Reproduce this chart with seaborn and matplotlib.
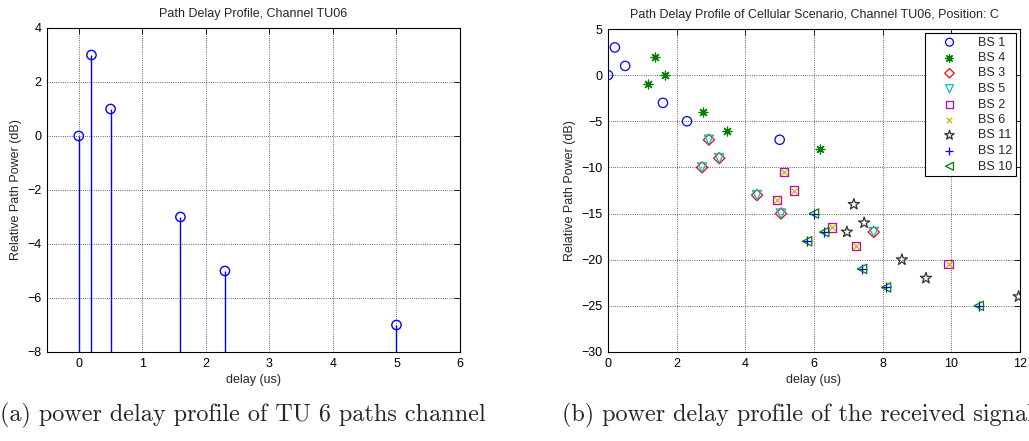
import numpy as np
import pandas as pd
import matplotlib
matplotlib.use("Agg")
import matplotlib.pyplot as plt
import seaborn as sns

# left panel: TU06 path delay profile
tu_delay = [0, 0.2, 0.5, 1.6, 2.3, 5.0]
tu_power = [0, 3, 1, -3, -5, -7]

# right panel: cellular scenario, one profile per base station
bs_names = ["BS 1", "BS 4", "BS 3", "BS 5", "BS 2", "BS 6", "BS 11", "BS 12", "BS 10"]
bs_delay = {
    "BS 1": [0, 0.2, 0.5, 1.6, 2.3, 5.0],
    "BS 4": [1.17, 1.37, 1.67, 2.77, 3.47, 6.17],
    "BS 3": [2.74, 2.94, 3.24, 4.34, 5.04, 7.74],
    "BS 5": [2.74, 2.94, 3.24, 4.34, 5.04, 7.74],
    "BS 2": [4.92, 5.12, 5.42, 6.52, 7.22, 9.92],
    "BS 6": [4.92, 5.12, 5.42, 6.52, 7.22, 9.92],
    "BS 11": [6.96, 7.16, 7.46, 8.56, 9.26, 11.96],
    "BS 12": [5.8, 6.0, 6.3, 7.4, 8.1, 10.8],
    "BS 10": [5.8, 6.0, 6.3, 7.4, 8.1, 10.8],
}
bs_power = {
    "BS 1": [0, 3, 1, -3, -5, -7],
    "BS 4": [-1, 2, 0, -4, -6, -8],
    "BS 3": [-10, -7, -9, -13, -15, -17],
    "BS 5": [-10, -7, -9, -13, -15, -17],
    "BS 2": [-13.5, -10.5, -12.5, -16.5, -18.5, -20.5],
    "BS 6": [-13.5, -10.5, -12.5, -16.5, -18.5, -20.5],
    "BS 11": [-17, -14, -16, -20, -22, -24],
    "BS 12": [-18, -15, -17, -21, -23, -25],
    "BS 10": [-18, -15, -17, -21, -23, -25],
}

# marker, colour, outlined (True) or line-art (False), size
styles = {
    "BS 1": ("o", "#0000ff", True, 45),
    "BS 4": ((8, 2, 0), "#008000", False, 40),
    "BS 3": ("D", "#ff0000", True, 32),
    "BS 5": ("v", "#00bfbf", True, 45),
    "BS 2": ("s", "#bf00bf", True, 35),
    "BS 6": ("x", "#bfbf00", False, 22),
    "BS 11": ("*", "#333333", True, 70),
    "BS 12": ("+", "#0000ff", False, 45),
    "BS 10": ("<", "#008000", True, 45),
}

sns.set_style("white")
plt.rcParams["font.family"] = ["Liberation Sans", "DejaVu Sans"]
plt.rcParams["font.size"] = 9

fig = plt.figure(figsize=(10.29, 4.41), dpi=100)
ax1 = fig.add_axes([47 / 1029, 1 - 352 / 441, 413 / 1029, 324 / 441])
ax2 = fig.add_axes([608 / 1029, 1 - 352 / 441, 412 / 1029, 323 / 441])


def matlab_axes(ax):
    ax.grid(True, color="k", linestyle=":", linewidth=0.6, alpha=0.8)
    ax.tick_params(direction="in", top=True, right=True, length=4, width=0.6,
                   labelsize=9, colors="k", pad=4)
    for s in ax.spines.values():
        s.set_color("k")
        s.set_linewidth(0.8)


# left: stem plot
df_tu = pd.DataFrame({"delay": tu_delay, "power": tu_power})
ax1.vlines(df_tu["delay"], -8, df_tu["power"], color="#0000ff", linewidth=1)
sns.scatterplot(data=df_tu, x="delay", y="power", ax=ax1, marker="o", s=45,
                facecolor="none", edgecolor="#0000ff", linewidth=1, zorder=3)
ax1.set_xlim(-0.5, 6)
ax1.set_ylim(-8, 4)
ax1.set_xticks(range(0, 7))
ax1.set_yticks(range(-8, 5, 2))
ax1.set_title("Path Delay Profile, Channel TU06", fontsize=9, pad=8)
ax1.set_xlabel("delay (us)", fontsize=9, labelpad=3)
ax1.set_ylabel("Relative Path Power (dB)", fontsize=9, labelpad=4)
matlab_axes(ax1)

# right: scatter per base station
for name in bs_names:
    mk, col, filled, size = styles[name]
    d = pd.DataFrame({"delay": bs_delay[name], "power": bs_power[name]})
    if filled:
        sns.scatterplot(data=d, x="delay", y="power", ax=ax2, marker=mk, s=size,
                        facecolor="none", edgecolor=col, linewidth=0.9,
                        label=name, zorder=3)
    else:
        sns.scatterplot(data=d, x="delay", y="power", ax=ax2, marker=mk, s=size,
                        color=col, linewidth=0.9, label=name, zorder=3)

ax2.set_xlim(0, 12)
ax2.set_ylim(-30, 5)
ax2.set_xticks(range(0, 13, 2))
ax2.set_yticks(range(-30, 6, 5))
ax2.set_title("Path Delay Profile of Cellular Scenario, Channel TU06, Position: C",
              fontsize=9, pad=8)
ax2.set_xlabel("delay (us)", fontsize=9, labelpad=3)
ax2.set_ylabel("Relative Path Power (dB)", fontsize=9, labelpad=4)
matlab_axes(ax2)
leg = ax2.legend(loc="upper right", fontsize=9, frameon=True, fancybox=False,
                 framealpha=1, edgecolor="k", borderaxespad=0.35,
                 labelspacing=0.28, handletextpad=0.6, borderpad=0.25,
                 handlelength=3.4, markerscale=0.85)
leg.get_frame().set_linewidth(0.8)

# sub-figure captions (the right one runs off the page edge, as in the source)
fig.text(0.0, 1 - 415 / 441, "(a) power delay profile of TU 6 paths channel",
         fontfamily="cmr10", fontsize=17.4, va="center", ha="left")
fig.text(562 / 1029, 1 - 415 / 441, "(b) power delay profile of the received signal",
         fontfamily="cmr10", fontsize=17.4, va="center", ha="left")

fig.savefig("out.png", dpi=100)
